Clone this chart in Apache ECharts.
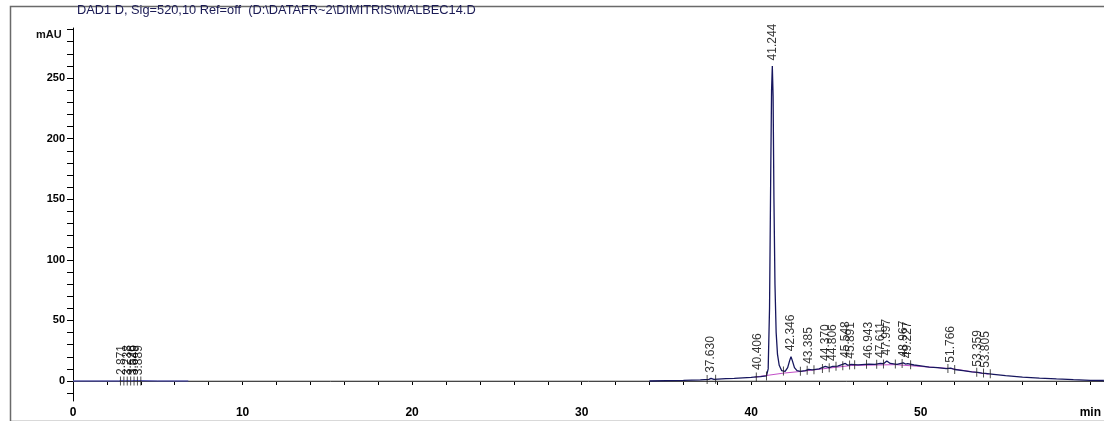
<!DOCTYPE html>
<html>
<head>
<meta charset="utf-8">
<title>MALBEC14</title>
<script src="https://cdn.jsdelivr.net/npm/echarts/dist/echarts.min.js"></script>
<style>
html,body{margin:0;padding:0;background:#fff;}
#chromChart{width:1104px;height:421px;}
</style>
</head>
<body>
<div id="chromChart"></div>
<script>
// signal before the gap (0 - 7 min)
var earlyTimes  = [0, 1, 2, 2.7, 2.871, 3.0, 3.238, 3.4, 3.526, 3.649, 3.75, 3.889, 4.0, 5, 6, 6.8];
var earlyValues = [0, 0, 0, 0, 0.4, 0, 0.3, 0, 0.3, 0.3, 0, 0.3, 0, 0, 0, 0];

// signal from 34 min to the end
var sigTimes = [34, 35, 36, 37, 37.5, 37.63, 37.8, 38.5, 39, 40, 40.3, 40.406, 40.55, 40.9,
  41.0, 41.08, 41.15, 41.2, 41.244, 41.29, 41.34, 41.4, 41.47, 41.55, 41.65, 41.8, 42.0,
  42.15, 42.27, 42.346, 42.42, 42.55, 42.7, 42.9, 43.2, 43.385, 43.6, 44.0, 44.37, 44.6,
  44.806, 45.1, 45.548, 45.7, 45.891, 46.3, 46.943, 47.3, 47.611, 47.8, 47.997, 48.2, 48.6,
  48.967, 49.1, 49.227, 49.6, 50, 50.5, 51, 51.5, 51.766, 52, 52.5, 53, 53.359, 53.6, 53.805,
  54.3, 55, 56, 57, 58, 59, 60, 60.8];
var sigValues = [0, 0.3, 0.6, 1.0, 1.3, 2.2, 1.4, 1.9, 2.2, 3.0, 3.4, 4.5, 3.6, 4.2,
  10, 60, 170, 240, 260, 235, 150, 80, 40, 22, 13, 8.5, 8,
  11, 17, 20, 17, 11, 8.5, 8, 8.6, 9.6, 9.2, 10, 12, 11,
  12, 12.3, 14.5, 13, 13.8, 13.3, 14, 13.8, 14.5, 14.3, 16.5, 14.5, 13.8,
  15, 14, 14.3, 13.2, 12.5, 11.5, 11, 10.2, 10.6, 9.5, 8.6, 7.6, 7.2, 6.5, 6.3,
  5.5, 4.4, 3.2, 2.4, 1.7, 1.1, 0.6, 0.4];

// integration baseline
var baseTimes  = [40.2, 41.9, 43.0, 44.5, 45.9, 48.5, 51.8, 54.0];
var baseValues = [3.2, 6.5, 8.0, 10.5, 12.8, 13.5, 10.2, 5.6];

// peak start/end markers
var markTimes  = [2.8, 3.0, 3.2, 3.4, 3.6, 3.8, 4.0, 37.4, 37.9, 40.3, 40.9, 41.9, 42.9, 43.3, 43.7,
  44.2, 44.6, 45.0, 45.4, 45.8, 46.1, 46.8, 47.4, 47.8, 48.5, 48.9, 49.4, 51.6, 52.0, 53.3, 53.7, 54.1];
var markValues = [0, 0, 0, 0, 0, 0, 0, 1.2, 1.5, 3.4, 4.2, 8.2, 8.0, 8.8, 9.3,
  10.4, 11.0, 12.1, 12.6, 13.2, 13.5, 13.9, 13.9, 14.1, 14.0, 14.4, 13.4, 10.3, 9.5, 7.3, 6.6, 6.0];

// retention time labels
var peakTimes  = [2.871, 3.238, 3.526, 3.649, 3.889, 37.630, 40.406, 41.244, 42.346, 43.385,
  44.370, 44.806, 45.548, 45.891, 46.943, 47.611, 47.997, 48.967, 49.227, 51.766, 53.359, 53.805];
var peakLabels = ['2.871', '3.238', '3.526', '3.649', '3.889', '37.630', '40.406', '41.244', '42.346', '43.385',
  '44.370', '44.806', '45.548', '45.891', '46.943', '47.611', '47.997', '48.967', '49.227', '51.766', '53.359', '53.805'];
var peakValues = [0.4, 0.3, 0.3, 0.3, 0.3, 2.2, 4.5, 260, 20, 9.6,
  12, 12, 14.5, 13.8, 14, 14.5, 16.5, 15, 14.3, 10.6, 7.2, 6.3];

var yLabelValues = [0, 50, 100, 150, 200, 250];
var yTickValues  = [-10, 0, 10, 20, 30, 40, 50, 60, 70, 80, 90, 100, 110, 120, 130, 140, 150,
  160, 170, 180, 190, 200, 210, 220, 230, 240, 250, 260, 270, 280, 290];
var xLabelNames = {0: '0', 10: '10', 20: '20', 30: '30', 40: '40', 50: '50', 60: 'min'};

function pairs(xs, ys) {
  var out = [];
  for (var i = 0; i < xs.length; i++) out.push([xs[i], ys[i]]);
  return out;
}

var chart = echarts.init(document.getElementById('chromChart'));
var font = '"Liberation Sans", Arial, sans-serif';

var option = {
  animation: false,
  backgroundColor: '#fff',
  graphic: [
    {
      type: 'rect', left: 8, top: 4, z: -1,
      shape: {width: 1100, height: 415},
      style: {fill: 'none', stroke: '#6a6a6a', lineWidth: 1.5}
    },
    {
      type: 'text', left: 77, top: 4,
      style: {text: 'DAD1 D, Sig=520,10 Ref=off  (D:\\DATAFR~2\\DIMITRIS\\MALBEC14.D',
        font: '12.8px ' + font, fill: '#1b1b55'}
    },
    {
      type: 'text', left: 36, top: 29,
      style: {text: 'mAU', font: 'bold 11px ' + font, fill: '#111'}
    }
  ],
  grid: {left: 73, right: 0, top: 28, bottom: 20},
  xAxis: {
    type: 'value', min: 0, max: 60.8, interval: 2,
    axisLine: {lineStyle: {color: '#000', width: 1}},
    axisTick: {length: 4, lineStyle: {color: '#000'}},
    splitLine: {show: false},
    axisLabel: {
      showMaxLabel: false, margin: 6,
      color: '#000', fontFamily: font, fontSize: 12, fontWeight: 'bold',
      formatter: function (v) {
        return xLabelNames[v] !== undefined ? xLabelNames[v] : '';
      }
    }
  },
  yAxis: {
    type: 'value', min: -16.5, max: 291.3,
    axisLine: {show: true, lineStyle: {color: '#000', width: 1}},
    axisTick: {show: true, length: 6, customValues: yTickValues, lineStyle: {color: '#000'}},
    splitLine: {show: false},
    axisLabel: {
      customValues: yLabelValues, margin: 8,
      color: '#000', fontFamily: font, fontSize: 11, fontWeight: 'bold'
    }
  },
  series: [
    {
      name: 'zero', type: 'line', symbol: 'none', silent: true, z: 1,
      lineStyle: {color: '#8c8c8c', width: 1.2},
      data: [[0, 0], [60.8, 0]]
    },
    {
      name: 'early', type: 'line', symbol: 'none', z: 3,
      lineStyle: {color: '#3d3db0', width: 1},
      data: pairs(earlyTimes, earlyValues)
    },
    {
      name: 'baseline', type: 'line', symbol: 'none', z: 2,
      lineStyle: {color: '#c24fc8', width: 1},
      data: pairs(baseTimes, baseValues)
    },
    {
      name: 'signal', type: 'line', symbol: 'none', z: 3,
      lineStyle: {color: '#16165e', width: 1.3},
      data: pairs(sigTimes, sigValues)
    },
    {
      name: 'marks', type: 'scatter', symbol: 'rect', symbolSize: [1, 9], z: 4,
      itemStyle: {color: '#222'},
      data: pairs(markTimes, markValues)
    },
    {
      name: 'peaks', type: 'scatter', symbolSize: 1, z: 5,
      itemStyle: {color: 'rgba(0,0,0,0)'},
      label: {
        show: true, position: 'top', distance: 5, rotate: 90,
        align: 'left', verticalAlign: 'middle',
        color: '#000', fontFamily: font, fontSize: 12,
        formatter: function (p) { return peakLabels[p.dataIndex]; }
      },
      labelLayout: {hideOverlap: false},
      data: pairs(peakTimes, peakValues)
    }
  ]
};

chart.setOption(option);
window.onresize = function () {
  chart.resize();
};
</script>
</body>
</html>
